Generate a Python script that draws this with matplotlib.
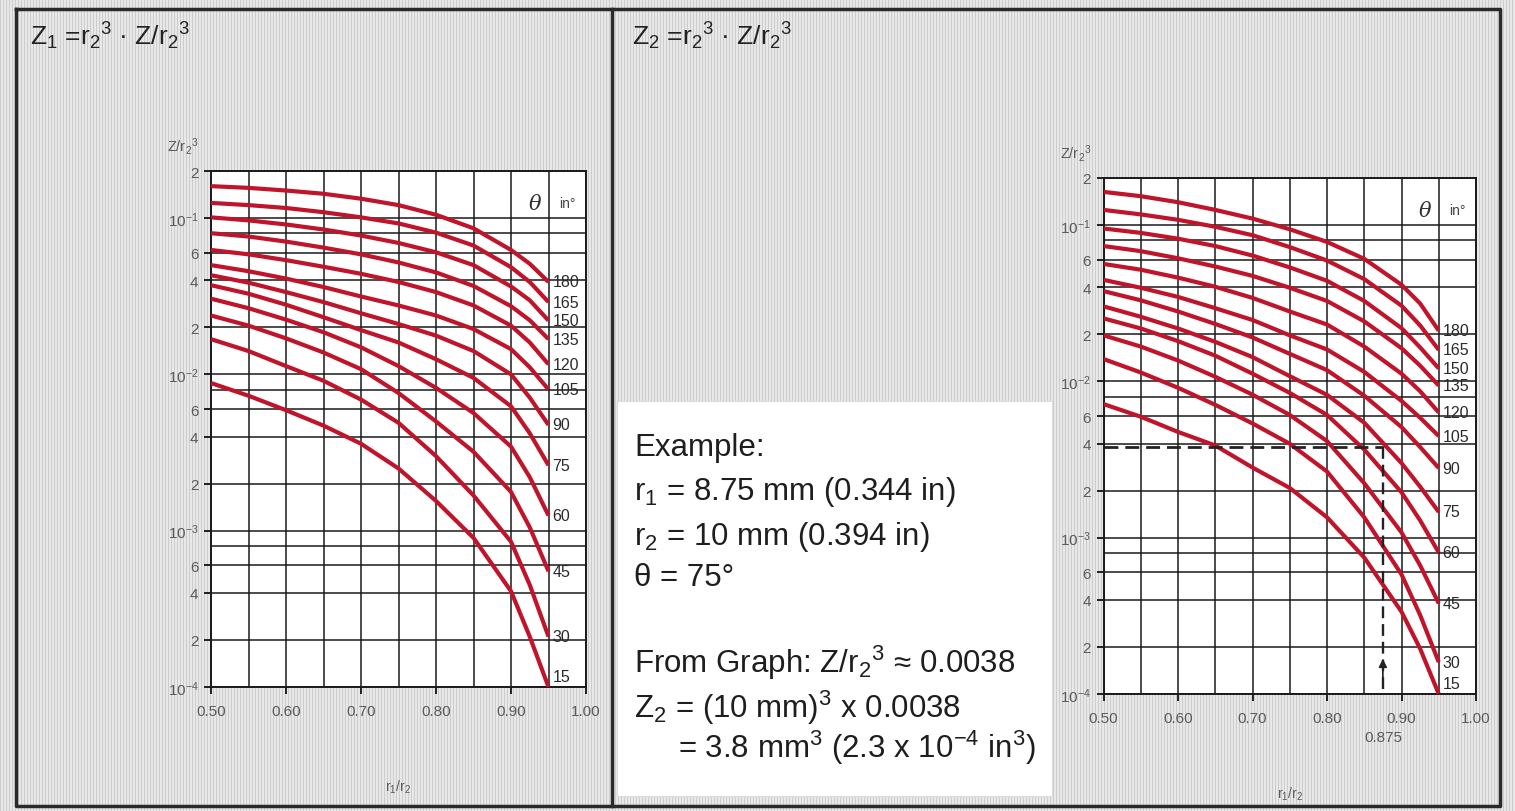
import numpy as np
import matplotlib.pyplot as plt

plt.rcParams['font.family'] = ['Liberation Sans', 'DejaVu Sans']
plt.rcParams['mathtext.fontset'] = 'custom'
plt.rcParams['mathtext.rm'] = 'Liberation Sans'
plt.rcParams['mathtext.it'] = 'Liberation Sans:italic'
plt.rcParams['mathtext.bf'] = 'Liberation Sans:bold'

ratio = [0.50, 0.55, 0.60, 0.65, 0.70, 0.75, 0.80, 0.85, 0.90, 0.925, 0.95]
angles = [180, 165, 150, 135, 120, 105, 90, 75, 60, 45, 30, 15]

# Z1/r2^3 (left chart)
z1_180 = [0.160, 0.156, 0.150, 0.143, 0.133, 0.121, 0.105, 0.086, 0.0625, 0.051, 0.039]
z1_165 = [0.125, 0.121, 0.116, 0.109, 0.101, 0.0924, 0.0807, 0.0667, 0.0485, 0.039, 0.029]
z1_150 = [0.101, 0.0966, 0.0910, 0.0845, 0.0773, 0.0693, 0.0604, 0.0500, 0.0365, 0.0298, 0.0221]
z1_135 = [0.080, 0.0762, 0.0707, 0.0647, 0.0586, 0.0520, 0.0449, 0.0368, 0.0273, 0.0222, 0.0168]
z1_120 = [0.0625, 0.0586, 0.0538, 0.0488, 0.0440, 0.0390, 0.0336, 0.0276, 0.0205, 0.0160, 0.0116]
z1_105 = [0.0500, 0.0457, 0.0410, 0.0362, 0.0315, 0.0276, 0.0238, 0.0195, 0.0145, 0.0111, 0.0080]
z1_90 = [0.0431, 0.0386, 0.0336, 0.0290, 0.0246, 0.0210, 0.0177, 0.0141, 0.0100, 0.0071, 0.00475]
z1_75 = [0.0372, 0.0328, 0.0279, 0.0232, 0.0192, 0.0160, 0.0125, 0.0095, 0.00625, 0.0042, 0.00262]
z1_60 = [0.0305, 0.0265, 0.0224, 0.0186, 0.0149, 0.0113, 0.0082, 0.00566, 0.00345, 0.0022, 0.00125]
z1_45 = [0.0238, 0.0205, 0.0170, 0.0138, 0.0108, 0.0076, 0.0050, 0.0032, 0.00177, 0.00105, 0.00055]
z1_30 = [0.0168, 0.0141, 0.0113, 0.0091, 0.0069, 0.0049, 0.0030, 0.00168, 0.00085, 0.00045, 0.00021]
z1_15 = [0.0088, 0.0073, 0.0059, 0.0047, 0.0036, 0.0025, 0.00155, 0.0009, 0.00041, 0.00021, 0.0001]

# Z2/r2^3 (right chart)
z2_180 = [0.163, 0.153, 0.140, 0.125, 0.110, 0.094, 0.078, 0.0608, 0.0415, 0.0315, 0.0211]
z2_165 = [0.125, 0.117, 0.108, 0.0975, 0.0861, 0.0723, 0.0593, 0.0451, 0.0305, 0.0228, 0.0159]
z2_150 = [0.0951, 0.0891, 0.0818, 0.0734, 0.0638, 0.0536, 0.044, 0.0327, 0.0219, 0.0165, 0.0121]
z2_135 = [0.0734, 0.0681, 0.0613, 0.0543, 0.0473, 0.0397, 0.0327, 0.0242, 0.0163, 0.0126, 0.0094]
z2_120 = [0.0564, 0.0518, 0.0461, 0.0403, 0.0342, 0.0280, 0.0231, 0.0167, 0.0112, 0.00865, 0.00632]
z2_105 = [0.0446, 0.0397, 0.0347, 0.0294, 0.0247, 0.0197, 0.0160, 0.0115, 0.00750, 0.00585, 0.00447]
z2_90 = [0.0378, 0.0330, 0.0280, 0.0233, 0.0191, 0.0150, 0.0118, 0.0081, 0.0051, 0.00380, 0.00279]
z2_75 = [0.0302, 0.0259, 0.0218, 0.0179, 0.0143, 0.0108, 0.0082, 0.00544, 0.0030, 0.00212, 0.00146]
z2_60 = [0.0253, 0.0218, 0.0181, 0.0146, 0.0112, 0.00844, 0.00610, 0.00366, 0.00195, 0.00129, 0.000803]
z2_45 = [0.0197, 0.0167, 0.0136, 0.0107, 0.00822, 0.0061, 0.00415, 0.00223, 0.00108, 0.000665, 0.00038]
z2_30 = [0.0139, 0.0114, 0.0091, 0.00708, 0.00538, 0.00399, 0.00265, 0.00135, 0.000582, 0.00032, 0.00016]
z2_15 = [0.00716, 0.00594, 0.00475, 0.00389, 0.00281, 0.00208, 0.00135, 0.000746, 0.000336, 0.000195, 0.0001]

z1_curves = [z1_180, z1_165, z1_150, z1_135, z1_120, z1_105, z1_90, z1_75, z1_60, z1_45, z1_30, z1_15]
z2_curves = [z2_180, z2_165, z2_150, z2_135, z2_120, z2_105, z2_90, z2_75, z2_60, z2_45, z2_30, z2_15]

# axis ticks
x_ticks = [0.50, 0.60, 0.70, 0.80, 0.90, 1.00]
x_tick_labels = ['0.50', '0.60', '0.70', '0.80', '0.90', '1.00']
x_grid = [0.55, 0.65, 0.75, 0.85, 0.95]
y_ticks = [1e-4, 2e-4, 4e-4, 6e-4, 1e-3, 2e-3, 4e-3, 6e-3, 1e-2, 2e-2, 4e-2, 6e-2, 1e-1, 2e-1]
y_tick_labels = ['$10^{-4}$', '2', '4', '6', '$10^{-3}$', '2', '4', '6',
                 '$10^{-2}$', '2', '4', '6', '$10^{-1}$', '2']
y_grid = [8e-4, 8e-3, 8e-2]

# worked example on the right chart
example_ratio = 0.875
example_value = 0.0038

red = '#c0142b'
tick_grey = '#5a5a5a'

fig = plt.figure(figsize=(15.15, 8.12), dpi=100)

# striped grey paper background
bg = fig.add_axes([0, 0, 1, 1], zorder=-10)
stripes = np.where(np.arange(1515) % 3 == 0, 0.80, 0.91)
bg.imshow(np.tile(stripes, (2, 1)), aspect='auto', cmap='gray', vmin=0, vmax=1,
          interpolation='nearest', extent=[0, 1, 0, 1])
bg.set_xlim(0, 1)
bg.set_ylim(0, 1)
bg.axis('off')

# outer frame and panel divider
frame_x = [16 / 1515, 1500 / 1515, 1500 / 1515, 16 / 1515, 16 / 1515]
frame_y = [1 - 10 / 812, 1 - 10 / 812, 1 - 807 / 812, 1 - 807 / 812, 1 - 10 / 812]
bg.plot(frame_x, frame_y, color='#2a2a2a', lw=2.5)
bg.plot([612 / 1515, 612 / 1515], [1 - 10 / 812, 1 - 807 / 812], color='#2a2a2a', lw=2.5)

# white box for the example
bg.add_patch(plt.Rectangle((617 / 1515, 1 - 797 / 812), 435 / 1515, 395 / 812,
                           facecolor='white', edgecolor='#dddddd', lw=0.8))


def draw_panel(rect, curves):
    ax = fig.add_axes(rect)
    ax.set_facecolor('white')
    ax.set_yscale('log')
    ax.set_xlim(0.5, 1.0)
    ax.set_ylim(1e-4, 0.2)

    ax.set_xticks(x_ticks)
    ax.set_xticklabels(x_tick_labels)
    ax.set_xticks(x_grid, minor=True)
    ax.set_yticks(y_ticks)
    ax.set_yticklabels(y_tick_labels)
    ax.set_yticks(y_grid, minor=True)
    ax.yaxis.set_minor_formatter(plt.NullFormatter())
    ax.tick_params(which='major', direction='out', length=5, width=1.2,
                   labelsize=11, labelcolor=tick_grey, pad=4)
    ax.tick_params(which='minor', length=0)
    ax.tick_params(axis='x', pad=7)

    ax.grid(True, which='both', color='#1a1a1a', lw=1.1)
    ax.set_axisbelow(True)
    for s in ax.spines.values():
        s.set_color('#1a1a1a')
        s.set_linewidth(1.4)

    for ang, vals in zip(angles, curves):
        ax.plot(ratio, vals, color=red, lw=3.0, solid_capstyle='butt',
                solid_joinstyle='round', zorder=3)
        ax.text(0.955, max(vals[-1], 1.17e-4), str(ang), fontsize=11.5,
                color='#2a2a2a', va='center', ha='left', zorder=4)

    # angle header
    ax.text(0.932, 0.124, 'θ', fontsize=15, family='DejaVu Serif', style='italic',
            color='#333333', ha='center', va='center')
    ax.text(0.975, 0.124, 'in°', fontsize=10, color='#444444', ha='center', va='center')

    ax.set_xlabel('r$_1$/r$_2$', fontsize=10, color=tick_grey)
    ax.xaxis.set_label_coords(0.5, -0.175)
    ax.set_ylabel('Z/r$_2$$^3$', fontsize=10.5, color=tick_grey, rotation=0)
    ax.yaxis.set_label_coords(-0.075, 1.03)
    return ax


ax1 = draw_panel([211 / 1515, 1 - 688 / 812, 375 / 1515, 516 / 812], z1_curves)
ax2 = draw_panel([1103.5 / 1515, 1 - 695 / 812, 372.5 / 1515, 516 / 812], z2_curves)

# dashed read-off lines for the example
ax2.plot([0.5, example_ratio], [example_value, example_value], color='#222222',
         lw=2.0, linestyle=(0, (5, 2.5)), zorder=5)
ax2.plot([example_ratio, example_ratio], [example_value, 1e-4], color='#222222',
         lw=1.7, linestyle=(0, (5, 2.5)), zorder=5)
ax2.annotate('', xy=(example_ratio, 1.75e-4), xytext=(example_ratio, 1.2e-4),
             arrowprops=dict(arrowstyle='-|>', color='#222222', lw=1.2, mutation_scale=12),
             zorder=6)
ax2.text(example_ratio, -0.083, str(example_ratio), transform=ax2.get_xaxis_transform(),
         fontsize=11, color=tick_grey, ha='center', va='center')

# panel titles
fig.text(30 / 1515, 1 - 36 / 812, 'Z$_1$ =r$_2$$^3$ · Z/r$_2$$^3$', fontsize=19,
         color='#222222', va='center', ha='left')
fig.text(632 / 1515, 1 - 36 / 812, 'Z$_2$ =r$_2$$^3$ · Z/r$_2$$^3$', fontsize=19,
         color='#222222', va='center', ha='left')

# example text
example_lines = [
    (634, 448, 'Example:'),
    (634, 492, 'r$_1$ = 8.75 mm (0.344 in)'),
    (634, 537, 'r$_2$ = 10 mm (0.394 in)'),
    (634, 578, 'θ = 75°'),
    (634, 663, 'From Graph: Z/r$_2$$^3$ ≈ 0.0038'),
    (634, 708, 'Z$_2$ = (10 mm)$^3$ x 0.0038'),
    (678, 748, '= 3.8 mm$^3$ (2.3 x 10$^{-4}$ in$^3$)'),
]
for px, py, line in example_lines:
    fig.text(px / 1515, 1 - py / 812, line, fontsize=22.5, color='#1e1e1e',
             va='center', ha='left')

plt.savefig('out.png', dpi=100)
